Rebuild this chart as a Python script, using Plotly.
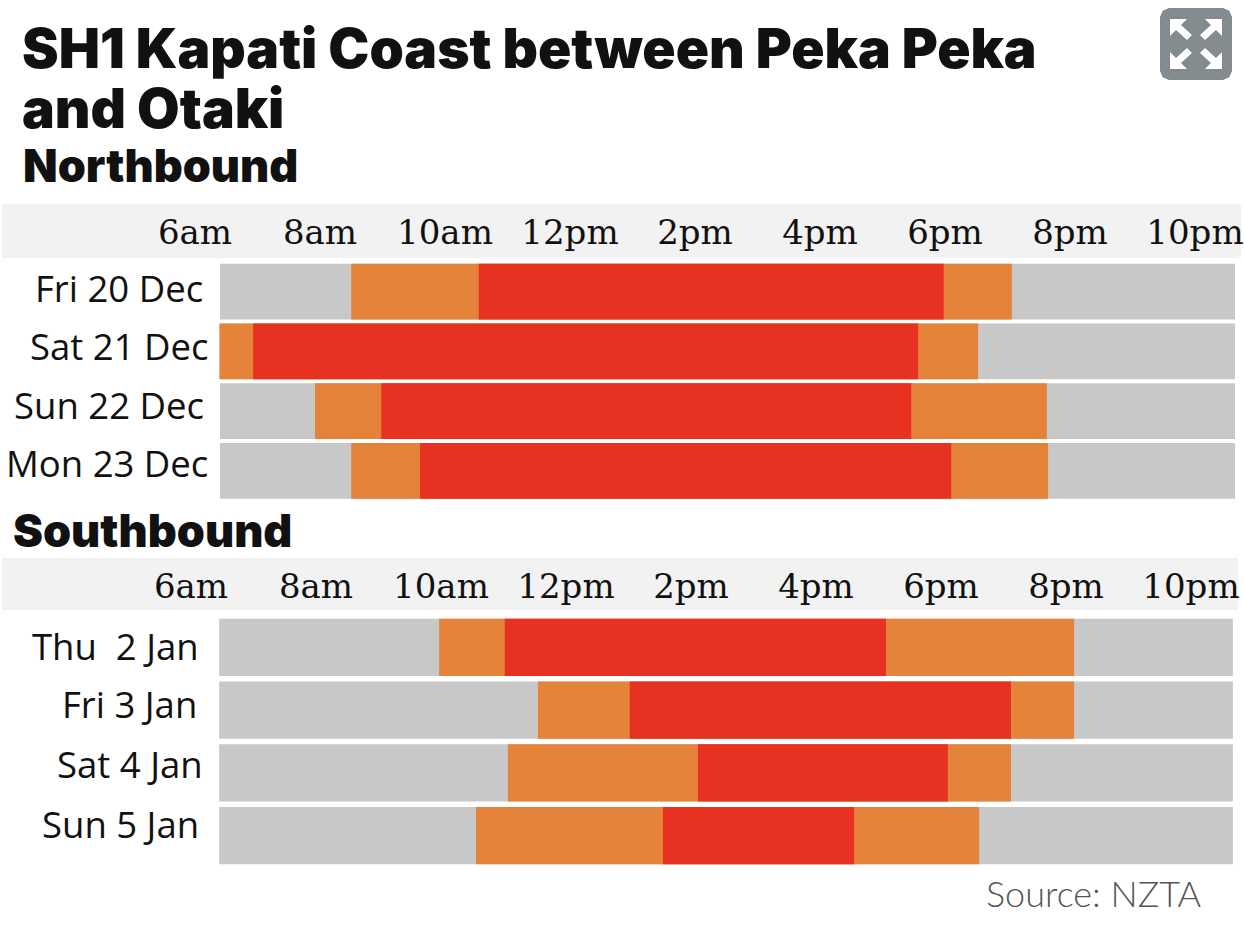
import plotly.graph_objects as go

W, H = 1244, 928

hour_labels = ["6am", "8am", "10am", "12pm", "2pm", "4pm", "6pm", "8pm", "10pm"]
hour_ticks = [6, 8, 10, 12, 14, 16, 18, 20, 22]

# Northbound: congestion windows, hours of the day
north_days = ["Fri 20 Dec", "Sat 21 Dec", "Sun 22 Dec", "Mon 23 Dec"]
north_orange_start = [8.50, 6.39, 7.92, 8.50]
north_red_start = [10.54, 6.93, 8.98, 9.60]
north_red_end = [17.98, 17.57, 17.46, 18.10]
north_orange_end = [19.07, 18.53, 19.63, 19.65]
north_day_start = [6.40, 6.40, 6.40, 6.40]
north_day_end = [22.64, 22.64, 22.64, 22.64]

# Southbound: congestion windows, hours of the day
south_days = ["Thu\u00a0\u00a02 Jan", "Fri 3 Jan", "Sat 4 Jan", "Sun 5 Jan"]
south_orange_start = [9.97, 11.55, 11.07, 10.56]
south_red_start = [11.02, 13.02, 14.11, 13.55]
south_red_end = [17.12, 19.12, 18.11, 16.61]
south_orange_end = [20.13, 20.13, 19.12, 18.61]
south_day_start = [6.45, 6.45, 6.45, 6.45]
south_day_end = [22.67, 22.67, 22.67, 22.67]

GREY = "#c8c8c8"
ORANGE = "#e6833a"
RED = "#e73222"
STRIP = "#f2f2f2"
INK = "#111111"

PX_PER_HOUR = 62.5
SERIF = "DejaVu Serif"
SANS = "Open Sans"
HEAVY = "Inter"


def px(x):
    return x / W


def py(y):
    return 1 - y / H


def hour_range(six_am_x):
    return [6 - six_am_x / PX_PER_HOUR, 6 + (W - six_am_x) / PX_PER_HOUR]


def spans(days, start, end, color, width, xa, ya):
    return go.Bar(
        y=days,
        base=start,
        x=[e - s for s, e in zip(start, end)],
        orientation="h",
        width=width,
        marker=dict(color=color, line=dict(width=0)),
        xaxis=xa,
        yaxis=ya,
        showlegend=False,
        hoverinfo="skip",
    )


fig = go.Figure()

for days, ds, de, os_, oe, rs, re_, width, xa, ya in [
    (north_days, north_day_start, north_day_end, north_orange_start, north_orange_end,
     north_red_start, north_red_end, 0.93, "x", "y"),
    (south_days, south_day_start, south_day_end, south_orange_start, south_orange_end,
     south_red_start, south_red_end, 0.91, "x2", "y2"),
]:
    fig.add_trace(spans(days, ds, de, GREY, width, xa, ya))
    fig.add_trace(spans(days, os_, oe, ORANGE, width, xa, ya))
    fig.add_trace(spans(days, rs, re_, RED, width, xa, ya))


def hour_axis(six_am_x, anchor):
    return dict(
        domain=[0, 1],
        range=hour_range(six_am_x),
        anchor=anchor,
        side="top",
        tickmode="array",
        tickvals=hour_ticks,
        ticktext=hour_labels,
        ticks="",
        ticklabelstandoff=10,
        showgrid=False,
        zeroline=False,
        showline=False,
        tickfont=dict(family=SERIF, size=34, color=INK),
        fixedrange=True,
    )


def day_axis(days, top, bottom):
    return dict(
        domain=[py(bottom), py(top)],
        type="category",
        categoryorder="array",
        categoryarray=days,
        range=[3.5, -0.5],
        showticklabels=False,
        ticks="",
        showgrid=False,
        zeroline=False,
        showline=False,
        fixedrange=True,
    )


annotations = []


def text(x, y, s, family, size, anchor="left", weight=None, color=INK, **kw):
    annotations.append(dict(
        x=px(x), y=py(y), xref="paper", yref="paper", text=s, showarrow=False,
        xanchor=anchor, yanchor="middle", align=anchor,
        font=dict(family=family, size=size, color=color, weight=weight), **kw,
    ))


text(20, 48, "SH1 Kapati Coast between Peka Peka", HEAVY, 55, weight=900)
text(20, 108, "and Otaki", HEAVY, 55, weight=900)
text(21, 165, "Northbound", HEAVY, 45, weight=900)
text(11, 530, "Southbound", HEAVY, 45, weight=900)
text(1204, 893, "Source: NZTA", "Lato", 36, anchor="right", weight=300, color="#555555")

# Day labels sit on their own rows, each nudged to its hand-set spot
for days, ya, right_edges, lifts in [
    (north_days, "y", [205, 210, 206, 210], [4, 5, 6, 8]),
    (south_days, "y2", [201, 199, 205, 201], [1, 6, 9, 12]),
]:
    for day, right, lift in zip(days, right_edges, lifts):
        annotations.append(dict(
            x=px(right), y=day, xref="paper", yref=ya, text=day, showarrow=False,
            xanchor="right", yanchor="middle", yshift=lift,
            font=dict(family=SANS, size=36.5, color=INK),
        ))


def rect_shape(x0, y0, x1, y1, color):
    return dict(type="rect", xref="paper", yref="paper", x0=px(x0), x1=px(x1),
                y0=py(y0), y1=py(y1), fillcolor=color, line=dict(width=0), layer="below")


def poly(points, color):
    d = "M " + " L ".join(f"{px(x):.5f},{py(y):.5f}" for x, y in points) + " Z"
    return dict(type="path", xref="paper", yref="paper", path=d, fillcolor=color,
                line=dict(width=0), layer="above")


def rounded(x0, y0, x1, y1, r, color):
    pts = [(x0 + r, y0), (x1 - r, y0), (x1 - r * .3, y0 + r * .3), (x1, y0 + r),
           (x1, y1 - r), (x1 - r * .3, y1 - r * .3), (x1 - r, y1),
           (x0 + r, y1), (x0 + r * .3, y1 - r * .3), (x0, y1 - r),
           (x0, y0 + r), (x0 + r * .3, y0 + r * .3)]
    return poly(pts, color)


shapes = [
    rect_shape(2, 204, 1241, 258, STRIP),
    rect_shape(2, 558, 1238, 610, STRIP),
    rounded(1160, 8, 1232, 80, 9, "#848b8e"),
]

# Expand icon: one arrow outline mirrored into the four corners
arrow = [(-26, -25), (-9, -25), (-15, -19), (-4, -9), (-9, -4), (-20, -14), (-26, -8)]
for sx, sy in [(1, 1), (-1, 1), (1, -1), (-1, -1)]:
    shapes.append(poly([(1196 + sx * a, 44 + sy * b) for a, b in arrow], "#ffffff"))

fig.update_layout(
    width=W,
    height=H,
    margin=dict(l=0, r=0, t=0, b=0),
    paper_bgcolor="#ffffff",
    plot_bgcolor="rgba(0,0,0,0)",
    barmode="overlay",
    showlegend=False,
    xaxis=hour_axis(195, "y"),
    xaxis2=hour_axis(191, "y2"),
    yaxis=day_axis(north_days, 261.75, 500.75),
    yaxis2=day_axis(south_days, 616, 867),
    annotations=annotations,
    shapes=shapes,
)

fig.write_html("out.html", config=dict(displayModeBar=False))
